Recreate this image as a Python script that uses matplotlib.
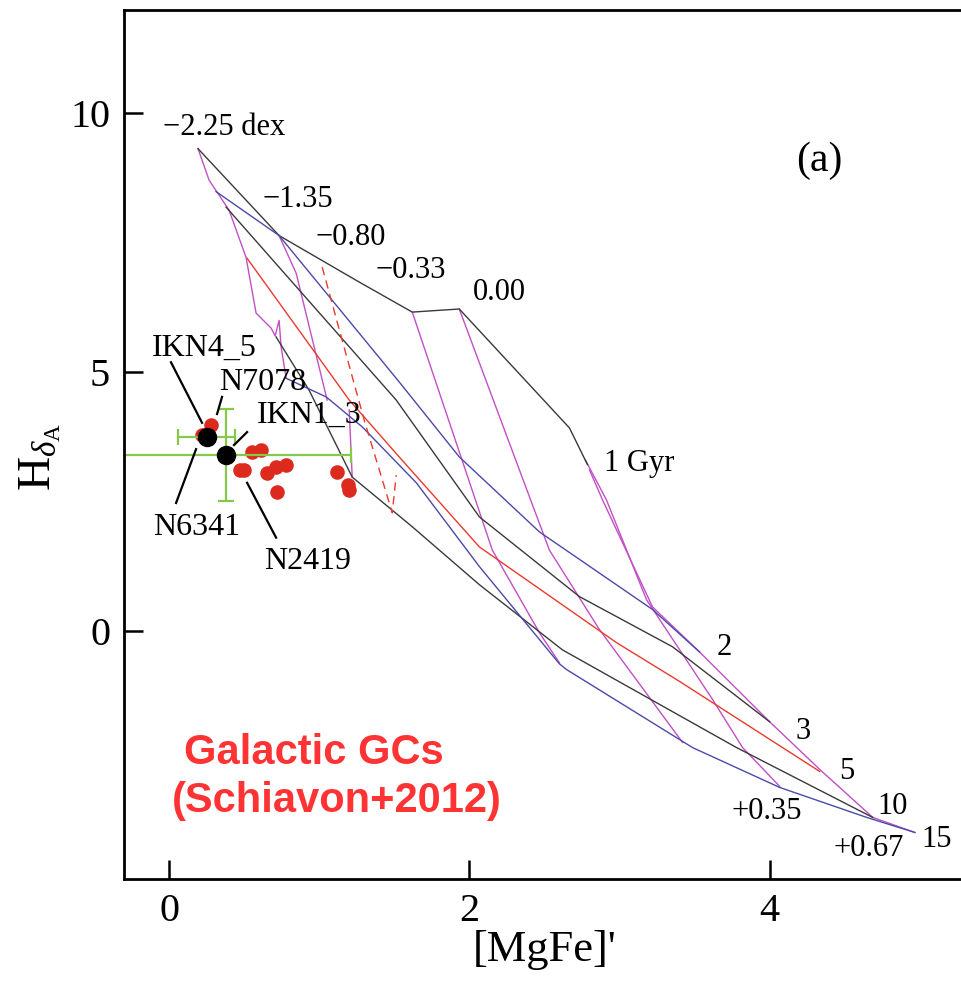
import matplotlib.pyplot as plt

plt.rcParams['font.family'] = 'Liberation Serif'
plt.rcParams['mathtext.fontset'] = 'custom'
plt.rcParams['mathtext.rm'] = 'Liberation Serif'
plt.rcParams['mathtext.it'] = 'Liberation Serif:italic'

# model grid, lines of constant age ([MgFe]', Hd_A)
age_1_x = [0.193, 0.733, 1.267, 1.620, 1.933, 2.667, 2.787]
age_1_y = [9.32, 7.64, 6.74, 6.16, 6.22, 3.92, 3.21]
age_2_x = [0.313, 0.733, 1.533, 1.933, 2.467, 3.220, 3.533]
age_2_y = [8.49, 7.64, 4.81, 3.36, 1.91, 0.41, -0.41]
age_3_x = [0.38, 1.513, 2.067, 2.733, 3.353, 4.0]
age_3_y = [8.19, 4.46, 2.20, 0.66, -0.31, -1.76]
age_5_x = [0.52, 1.2, 1.533, 2.067, 2.98, 3.40, 4.333]
age_5_y = [7.20, 4.46, 3.36, 1.62, -0.23, -0.98, -2.72]
age_10_x = [0.713, 0.933, 1.22, 1.62, 2.067, 2.62, 3.78, 4.687]
age_10_y = [5.68, 4.65, 2.97, 2.01, 0.89, -0.37, -2.26, -3.61]
age_15_x = [0.78, 1.047, 1.287, 1.647, 2.067, 2.60, 2.647, 3.487, 4.067, 4.647, 4.967]
age_15_y = [4.88, 4.52, 3.94, 2.86, 1.24, -0.64, -0.75, -2.26, -3.03, -3.61, -3.90]

# lines of constant metallicity
z_m225_x = [0.193, 0.267, 0.40, 0.513, 0.58, 0.68, 0.707, 0.733, 0.747, 0.78]
z_m225_y = [9.32, 8.71, 8.13, 7.22, 6.14, 5.85, 5.70, 6.00, 5.48, 4.88]
z_m135_x = [0.733, 0.847, 1.053]
z_m135_y = [7.64, 6.91, 4.46]
z_m080_x = [1.2, 1.22]
z_m080_y = [4.27, 2.97]
z_m033_x = [1.62, 2.153, 2.467, 2.60]
z_m033_y = [6.16, 1.56, -0.04, -0.62]
z_000_x = [1.933, 2.533, 2.867, 3.42]
z_000_y = [6.22, 1.56, 0.02, -2.16]
z_p035_x = [2.773, 2.913, 3.18, 3.62, 3.82, 4.067]
z_p035_y = [3.30, 2.53, 0.60, -1.33, -2.26, -3.01]
z_p067_x = [2.8, 2.887, 3.22, 3.533, 4.0, 4.333, 4.687, 4.967]
z_p067_y = [3.11, 2.53, 0.46, -0.41, -1.76, -2.68, -3.61, -3.90]

dash_x = [1.02, 1.153, 1.30, 1.487, 1.513]
dash_y = [7.03, 5.62, 4.07, 2.28, 3.01]

# Galactic GCs (Schiavon+2012)
gc_x = [0.28, 0.22, 0.55, 0.61, 0.50, 0.47, 0.65, 0.71, 0.78, 0.72, 1.12, 1.19, 1.20]
gc_y = [3.98, 3.78, 3.46, 3.49, 3.11, 3.11, 3.05, 3.17, 3.20, 2.68, 3.07, 2.82, 2.72]

# our clusters
obj_x = [0.25, 0.38]
obj_y = [3.75, 3.40]
obj_xerr = [0.19, 0.83]
obj_yerr = [0.0, 0.89]

fig = plt.figure(figsize=(9.61, 9.83), dpi=100)
ax = fig.add_axes([0.129, 0.1058, 0.875, 0.884])

black = '#3a3a3a'
blue = '#4a4aa8'
red = '#e83a2e'
mag = '#c24fc6'
lw = 1.0

for xs, ys in [(z_m225_x, z_m225_y), (z_m135_x, z_m135_y), (z_m080_x, z_m080_y),
               (z_m033_x, z_m033_y), (z_000_x, z_000_y), (z_p035_x, z_p035_y),
               (z_p067_x, z_p067_y)]:
    ax.plot(xs, ys, color=mag, lw=lw)

ax.plot(age_1_x, age_1_y, color=black, lw=lw)
ax.plot(age_2_x, age_2_y, color=blue, lw=lw)
ax.plot(age_3_x, age_3_y, color=black, lw=lw)
ax.plot(age_5_x, age_5_y, color=red, lw=lw)
ax.plot(age_10_x, age_10_y, color=black, lw=lw)
ax.plot(age_15_x, age_15_y, color=blue, lw=lw)
ax.plot(dash_x, dash_y, color=red, lw=lw, dashes=(6, 4))

ax.plot(gc_x, gc_y, 'o', color='#dd2a1e', ms=10.5, mec='none')
ax.errorbar(obj_x, obj_y, xerr=obj_xerr, yerr=obj_yerr, fmt='none',
            ecolor='#86c94a', elinewidth=1.6, capsize=6, capthick=1.6)
ax.plot(obj_x, obj_y, 'o', color='black', ms=13)

# leader lines for cluster names
leaders = [((0.013, 0.22), (5.19, 4.02)), ((0.353, 0.32), (4.52, 4.19)),
           ((0.52, 0.433), (3.84, 3.59)), ((0.18, 0.047), (3.51, 2.47)),
           ((0.52, 0.713), (2.86, 1.80))]
for lx, ly in leaders:
    ax.plot(lx, ly, color='black', lw=1.6)

names = ['IKN4_5', 'N7078', 'IKN1_3', 'N6341', 'N2419']
name_x = [0.233, 0.627, 0.933, 0.187, 0.92]
name_y = [5.46, 4.79, 4.17, 1.99, 1.33]
for s, x, y in zip(names, name_x, name_y):
    ax.text(x, y, s, fontsize=23, ha='center', va='center')

grid_labels = ['\u22122.25 dex', '\u22121.35', '\u22120.80', '\u22120.33', '0.00',
               '1 Gyr', '2', '3', '5', '10', '15', '+0.35', '+0.67']
grid_lx = [0.367, 0.86, 1.213, 1.613, 2.2, 3.133, 3.70, 4.22, 4.513, 4.82, 5.113, 3.98, 4.66]
grid_ly = [9.73, 8.34, 7.61, 6.97, 6.54, 3.24, -0.33, -1.95, -2.72, -3.40, -4.03, -3.49, -4.21]
for s, x, y in zip(grid_labels, grid_lx, grid_ly):
    ax.text(x, y, s, fontsize=22, ha='center', va='center')

ax.text(4.333, 9.09, '(a)', fontsize=30, ha='center', va='center')

ax.text(0.967, -2.36, 'Galactic GCs', fontsize=30, color='#ff3333', fontweight='bold',
        family='Liberation Sans', ha='center', va='center')
ax.text(1.12, -3.30, '(Schiavon+2012)', fontsize=30, color='#ff3333', fontweight='bold',
        family='Liberation Sans', ha='center', va='center')

ax.set_xlim(-0.3, 5.3)
ax.set_ylim(-4.8, 12.0)
ax.set_xticks([0, 2, 4])
ax.set_yticks([0, 5, 10])
ax.tick_params(direction='in', length=14, width=1.8, labelsize=29, pad=10)
ax.spines['right'].set_visible(False)
for sp in ['left', 'bottom', 'top']:
    ax.spines[sp].set_linewidth(2)
ax.set_xlabel("[MgFe]'", fontsize=32, labelpad=0)
fig.text(0.042, 0.535, r'$\mathrm{H}_{\delta_\mathrm{A}}$', fontsize=34,
         rotation=90, ha='center', va='center')

fig.savefig('out.png', dpi=100)
